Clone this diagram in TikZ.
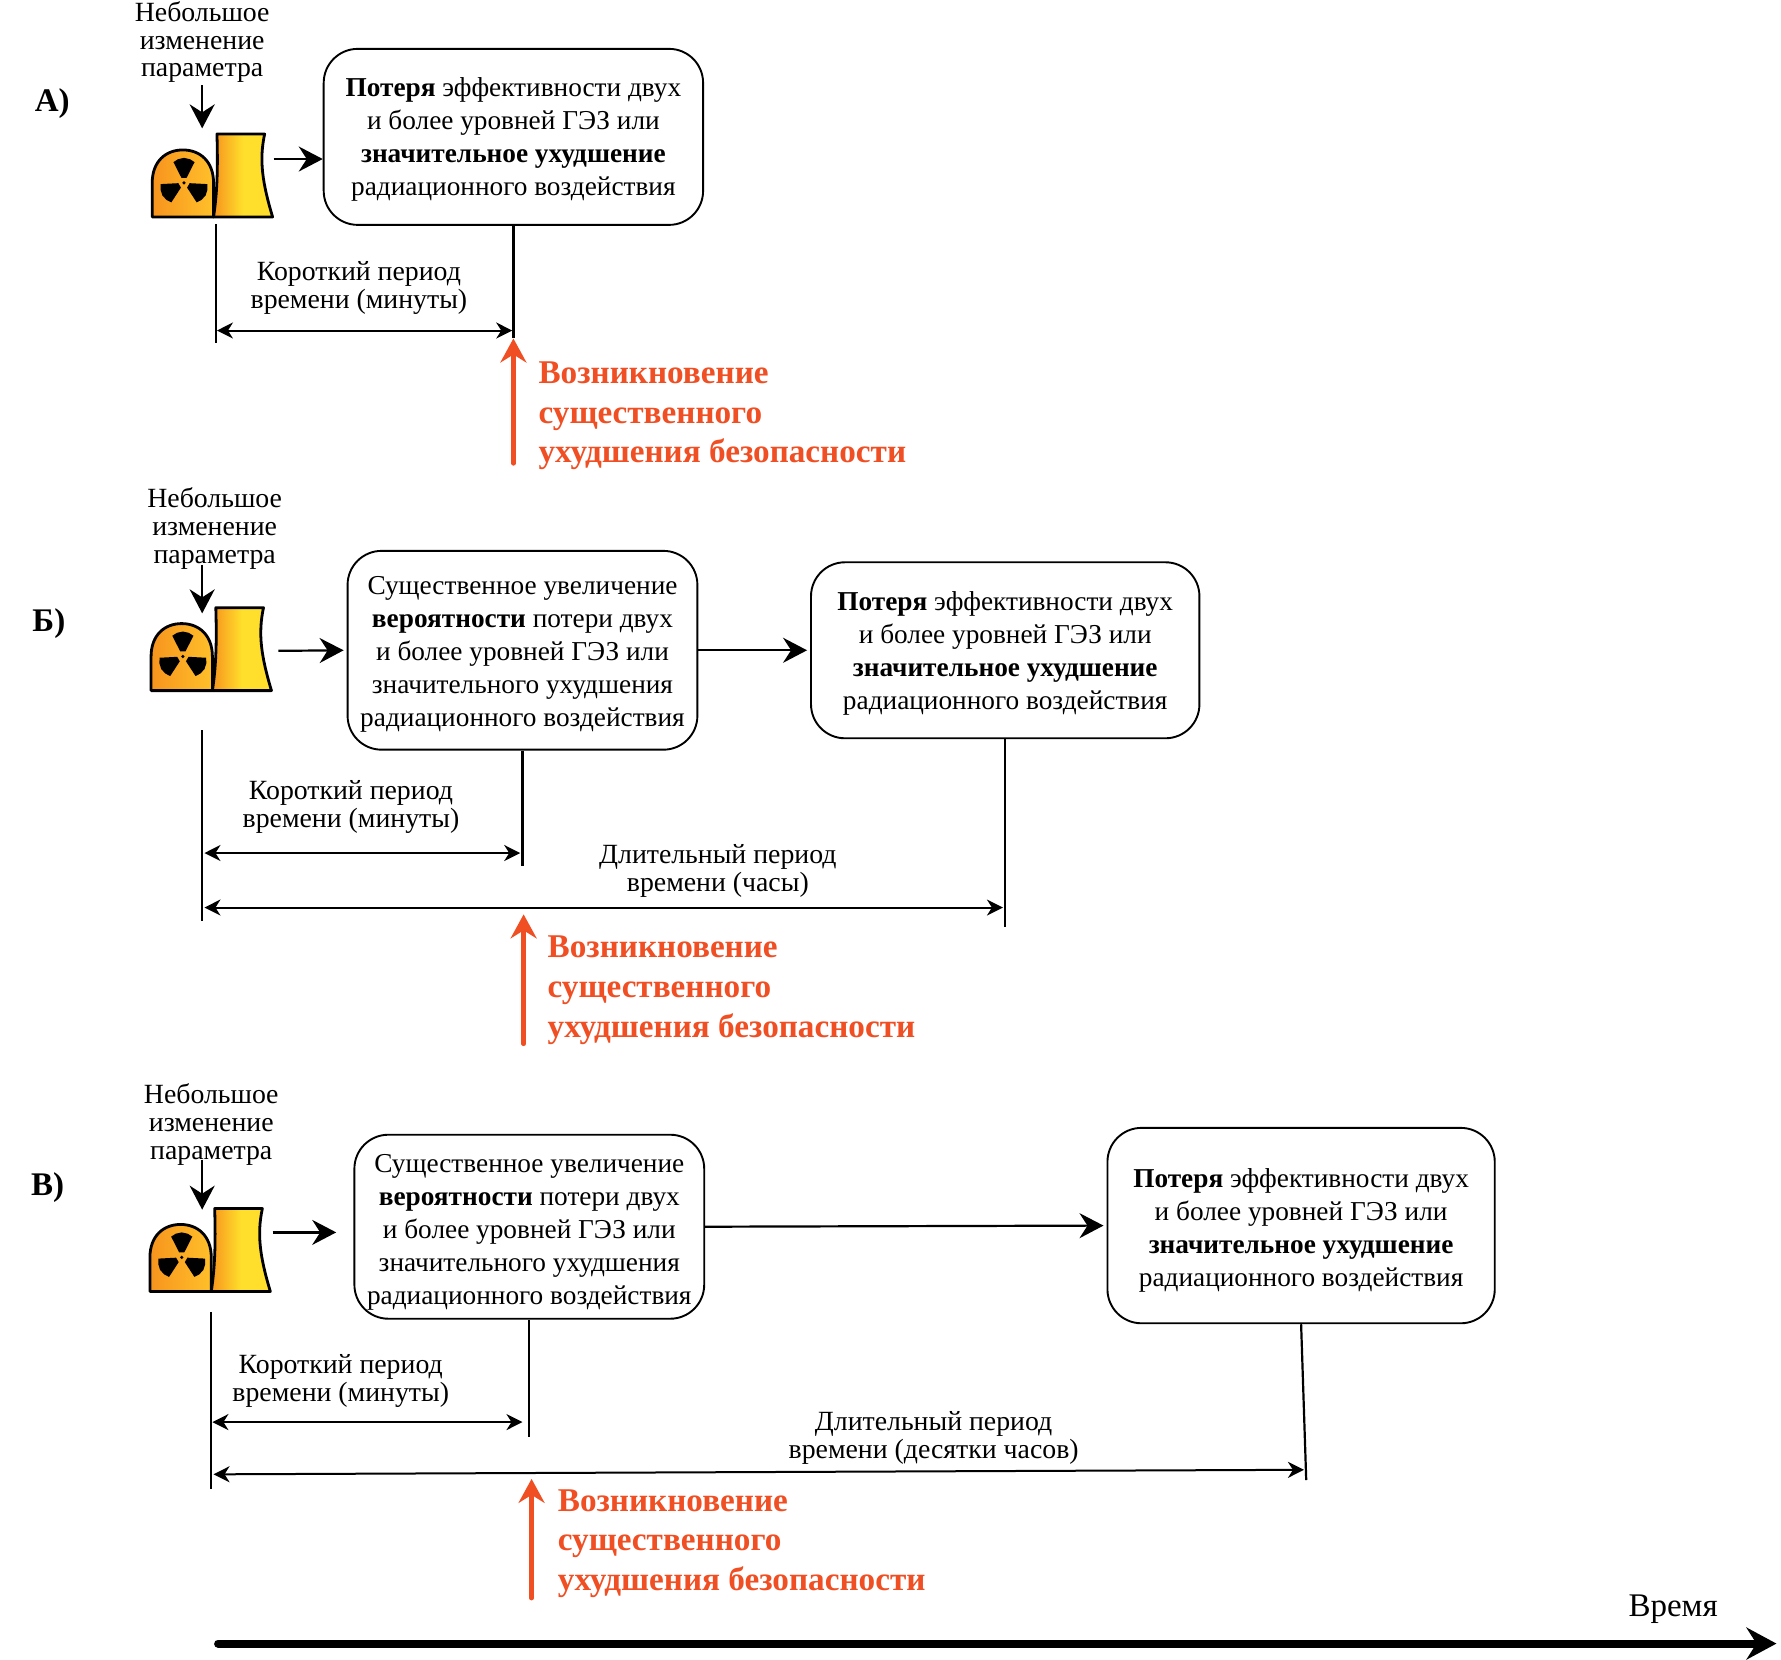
\documentclass[tikz,border=0pt]{standalone}
\usepackage{fontspec}
\setmainfont{Liberation Serif}
\usetikzlibrary{arrows.meta,calc}
\definecolor{redarr}{HTML}{F04E23}
\definecolor{oA}{HTML}{F7941E}
\definecolor{oB}{HTML}{FFC02A}
\definecolor{yA}{HTML}{FFDF2B}
\tikzset{
  x=1.1358pt,y=-1.1358pt,
  roundbox/.style={draw=black,line width=1.9pt,rounded corners=34pt,inner sep=0pt},
  boxtext/.style={inner sep=0pt,align=center,font=\fontsize{27.3}{33}\selectfont},
  plain/.style={inner sep=0pt,align=center,font=\fontsize{27.8}{27.8}\selectfont},
  redtext/.style={inner sep=0pt,align=left,text=redarr,font=\bfseries\fontsize{33.2}{39.8}\selectfont},
  letter/.style={inner sep=0pt,font=\bfseries\fontsize{33}{33}\selectfont},
  flow/.style={line width=2.2pt,-{Stealth[length=24pt,width=25pt,inset=8pt]}},
  tick/.style={line width=2.2pt},
  dim/.style={line width=2pt,{Stealth[length=16pt,width=16pt,inset=5pt]}-{Stealth[length=16pt,width=16pt,inset=5pt]}},
  event/.style={line width=4.4pt,draw=redarr,line cap=round,-{Stealth[length=24pt,width=26pt,inset=8pt]},redarr},
  timeaxis/.style={line width=8pt,line cap=round,-{Stealth[length=30pt,width=32pt,inset=10pt]}},
  reactor/.pic={
    \shade[left color=oA,right color=yA,middle color=yA,draw=black,line width=2.8pt,line join=round]
      (54,0) .. controls (57,-20) and (58,-40) .. (57,-73) -- (99,-73)
      .. controls (94,-50) and (97,-30) .. (106,0) -- cycle;
    \shade[left color=oA,right color=oB,draw=black,line width=2.8pt,line join=round]
      (0,0) -- (0,-30) .. controls (0,-49) and (12,-59) .. (27,-59)
      .. controls (42,-59) and (54,-49) .. (54,-30) -- (54,0) -- cycle;
    \foreach \a in {270,30,150}{
      \fill[black] ($(28,-30)+(\a-27:5)$) -- ($(28,-30)+(\a-27:20.5)$)
        -- ($(28,-30)+(\a-14:21.5)$) -- ($(28,-30)+(\a:22)$) -- ($(28,-30)+(\a+14:21.5)$)
        -- ($(28,-30)+(\a+27:20.5)$) -- ($(28,-30)+(\a+27:5)$) -- cycle;
    }
    \fill[black] (28,-30) circle[radius=1.8pt];
  }
}
\newcommand{\txtLoss}{\textbf{Потеря} эффективности двух\\и более уровней ГЭЗ или\\\textbf{значительное ухудшение}\\радиационного воздействия}
\newcommand{\txtProb}{Существенное увеличение\\\textbf{вероятности} потери двух\\и более уровней ГЭЗ или\\значительного ухудшения\\радиационного воздействия}
\begin{document}
\begin{tikzpicture}
\useasboundingbox (0,0) rectangle (1568,1460.6);
% ---- A
\node[letter] (lA) at (46,91) {А)};
\node[plain] (pA) at (178,37) {Небольшое\\изменение\\параметра};
\pic at (134,191) {reactor};
\coordinate (iAin) at (178,113);
\coordinate (iAout) at (241,140);
\coordinate (iAbase) at (190,197);
\node[roundbox,minimum width=379.4pt,minimum height=176pt] (bA) at (452,120.5) {};
\node[boxtext] (xA) at (452,122.5) {\txtLoss};
\draw[flow] (pA.south) ++(0,2) -- (iAin);
\draw[flow] (iAout) -- (iAout -| bA.west);
\coordinate (tA1) at (190,302);
\coordinate (tA2) at (452,298);
\draw[tick] (iAbase) -- (tA1);
\draw[tick] (bA.south) -- (tA2);
\coordinate (dA1) at (191,291);
\coordinate (dA2) at (451,291);
\draw[dim] (dA1) -- (dA2);
\node[plain] (sA) at (316,253.5) {Короткий период\\времени (минуты)};
\coordinate (eA1) at (452,408);
\coordinate (eA2) at (452,298);
\draw[event] (eA1) -- (eA2);
\node[redtext,anchor=west] (rA) at (474,366) {Возникновение\\существенного\\ухудшения безопасности};
% ---- B
\node[letter] (lB) at (43,549) {Б)};
\node[plain] (pB) at (189,465.5) {Небольшое\\изменение\\параметра};
\pic at (133,608) {reactor};
\coordinate (iBin) at (178,540);
\coordinate (iBtop) at (178,497);
\coordinate (iBout) at (245,573);
\node[roundbox,minimum width=349.8pt,minimum height=198.8pt] (bB1) at (460,572.5) {};
\node[boxtext] (xB1) at (460,576.5) {\txtProb};
\node[roundbox,minimum width=388.4pt,minimum height=176pt] (bB2) at (885,572.5) {};
\node[boxtext] (xB2) at (885,575.5) {\txtLoss};
\draw[flow] (iBtop) -- (iBin);
\draw[flow,shorten >=3pt] (iBout) -- (bB1.west);
\draw[flow,shorten >=3pt] (bB1.east) -- (bB2.west);
\coordinate (tB0a) at (178,643);
\coordinate (tB0b) at (178,811);
\coordinate (tB1) at (460,762);
\coordinate (tB2) at (885,816);
\draw[tick] (tB0a) -- (tB0b);
\draw[tick] (bB1.south) -- (tB1);
\draw[tick] (bB2.south) -- (tB2);
\coordinate (dB1) at (180,751);
\coordinate (dB2) at (458,751);
\coordinate (dB3) at (180,799);
\coordinate (dB4) at (883,799);
\draw[dim] (dB1) -- (dB2);
\draw[dim] (dB3) -- (dB4);
\node[plain] (sB) at (309,710.5) {Короткий период\\времени (минуты)};
\node[plain] (mB) at (632,766.5) {Длительный период\\времени (часы)};
\coordinate (eB1) at (461,919);
\coordinate (eB2) at (461,805);
\draw[event] (eB1) -- (eB2);
\node[redtext,anchor=west] (rB) at (482,872) {Возникновение\\существенного\\ухудшения безопасности};
% ---- V
\node[letter] (lV) at (42,1045.5) {В)};
\node[plain] (pV) at (186,990) {Небольшое\\изменение\\параметра};
\pic at (132,1137) {reactor};
\coordinate (iVin) at (178,1065);
\coordinate (iVtop) at (178,1021);
\coordinate (iVout) at (240,1085);
\coordinate (iVend) at (296,1085);
\node[roundbox,minimum width=349.8pt,minimum height=184pt] (bV1) at (466,1080) {};
\node[boxtext] (xV1) at (466,1085) {\txtProb};
\node[roundbox,minimum width=387.3pt,minimum height=195.4pt] (bV2) at (1145.5,1079) {};
\node[boxtext] (xV2) at (1145.5,1083) {\txtLoss};
\draw[flow] (iVtop) -- (iVin);
\draw[flow] (iVout) -- (iVend);
\draw[flow,shorten >=3pt] (bV1.east) -- (bV2.west);
\coordinate (tV0a) at (186,1155);
\coordinate (tV0b) at (186,1311);
\coordinate (tV1) at (466,1265);
\coordinate (tV2) at (1150,1303);
\draw[tick] (tV0a) -- (tV0b);
\draw[tick] (bV1.south) -- (tV1);
\draw[tick] (bV2.south) -- (tV2);
\coordinate (dV1) at (187,1252);
\coordinate (dV2) at (460,1252);
\coordinate (dV3) at (188,1298);
\coordinate (dV4) at (1148,1294);
\draw[dim] (dV1) -- (dV2);
\draw[dim] (dV3) -- (dV4);
\node[plain] (sV) at (300,1215.5) {Короткий период\\времени (минуты)};
\node[plain] (mV) at (822,1266) {Длительный период\\времени (десятки часов)};
\coordinate (eV1) at (468,1407);
\coordinate (eV2) at (468,1302);
\draw[event] (eV1) -- (eV2);
\node[redtext,anchor=west] (rV) at (491,1359) {Возникновение\\существенного\\ухудшения безопасности};
% ---- time
\coordinate (t0) at (192,1447);
\coordinate (t1) at (1564,1447);
\draw[timeaxis] (t0) -- (t1);
\node[plain,font=\fontsize{33}{33}\selectfont] (tl) at (1473,1417) {Время};
\end{tikzpicture}
\end{document}
